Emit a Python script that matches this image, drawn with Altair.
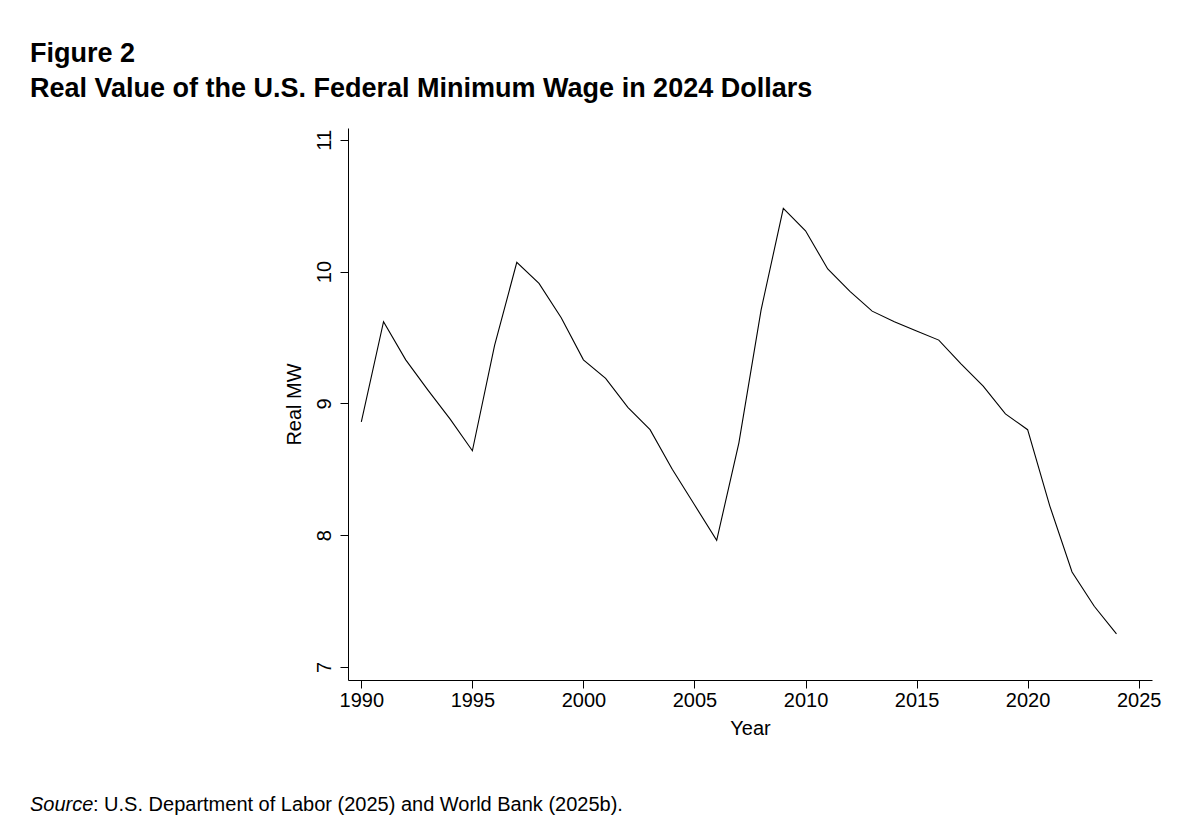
import altair as alt
import pandas as pd

years = list(range(1990, 2025))
real_mw = [8.86, 9.62, 9.33, 9.10, 8.88, 8.64, 9.44, 10.07, 9.91, 9.65,
           9.33, 9.19, 8.97, 8.80, 8.50, 8.23, 7.96, 8.70, 9.71, 10.48,
           10.31, 10.02, 9.85, 9.70, 9.62, 9.55, 9.48, 9.30, 9.13, 8.92,
           8.80, 8.22, 7.72, 7.46, 7.25]
x_ticks = [1990, 1995, 2000, 2005, 2010, 2015, 2020, 2025]
y_ticks = [7, 8, 9, 10, 11]

df = pd.DataFrame({"Year": years, "RealMW": real_mw})
one = pd.DataFrame({"k": [0]})
font = "Liberation Sans"

line = alt.Chart(df).mark_line(color="black", strokeWidth=1.1, clip=True).encode(
    x=alt.X("Year:Q", scale=alt.Scale(domain=[1989.4, 2025.6], nice=False, zero=False),
            axis=alt.Axis(values=x_ticks, format="d", title="Year", titlePadding=8)),
    y=alt.Y("RealMW:Q", scale=alt.Scale(domain=[6.9, 11.09], nice=False, zero=False),
            axis=alt.Axis(values=y_ticks, title="Real MW", labelAngle=270,
                          labelAlign="center", labelBaseline="bottom", labelPadding=6,
                          titlePadding=10)),
)


def note(text, x, y, size, weight="normal", style="normal"):
    return alt.Chart(one).mark_text(
        align="left", baseline="alphabetic", fontSize=size, font=font, color="black",
        fontWeight=weight, fontStyle=style,
    ).encode(x=alt.value(x), y=alt.value(y), text=alt.value(text))


title1 = note("Figure 2", -318, -66, 27, weight="bold")
title2 = note("Real Value of the U.S. Federal Minimum Wage in 2024 Dollars", -318, -31, 27, weight="bold")
src1 = note("Source", -318, 683, 20, style="italic")
src2 = note(": U.S. Department of Labor (2025) and World Bank (2025b).", -255, 683, 20)

chart = alt.layer(line, title1, title2, src1, src2).properties(
    width=804, height=552,
    autosize=alt.AutoSizeParams(type="none"),
    padding={"left": 340, "top": 120, "right": 32, "bottom": 147},
).configure(background="white").configure_view(stroke=None).configure_axis(
    domainColor="black", tickColor="black", grid=False, tickSize=8,
    labelFont=font, titleFont=font, labelFontSize=20, titleFontSize=20,
    labelColor="black", titleColor="black", titleFontWeight="normal",
)

chart.save("out.html", embed_options={"renderer": "svg", "actions": False})
